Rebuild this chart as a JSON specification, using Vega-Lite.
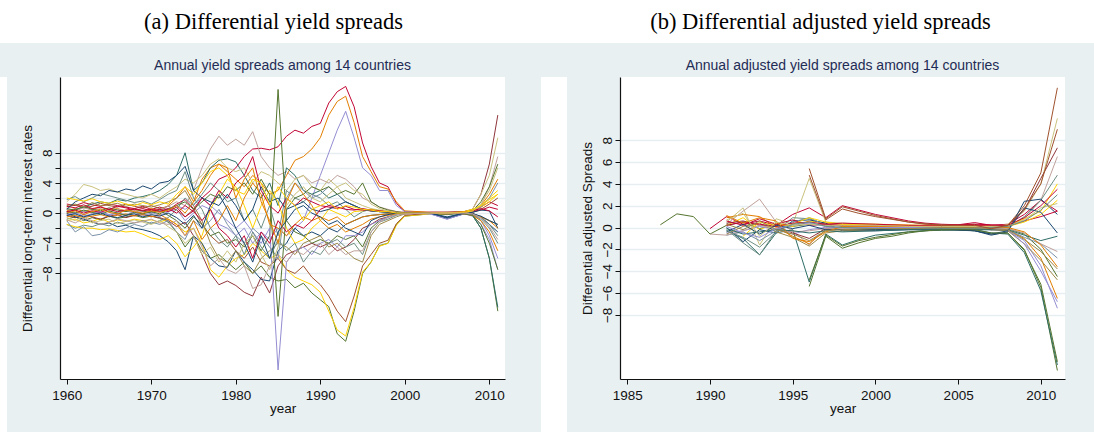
{
"$schema": "https://vega.github.io/schema/vega-lite/v6.json",
"background": "#e9f0f2",
"padding": 0,
"spacing": 16,
"resolve": {"scale": {"color": "independent"}},
"config": {
 "view": {"stroke": null},
 "font": "Liberation Sans",
 "axis": {"labelFont": "Liberation Sans", "titleFont": "Liberation Sans", "labelFontSize": 13.5, "titleFontSize": 13.5, "titleFontWeight": "normal", "labelColor": "#111111", "titleColor": "#111111", "domainColor": "#111111", "tickColor": "#111111", "domainWidth": 1.2, "tickSize": 5, "tickWidth": 1, "gridColor": "#e6eef1", "gridWidth": 1.5},
 "axisX": {"labelPadding": 4, "titlePadding": 0, "grid": false},
 "axisY": {"labelAngle": -90, "labelAlign": "center", "labelBaseline": "bottom", "labelPadding": 1, "titlePadding": 6, "grid": true},
 "title": {"font": "Liberation Sans", "fontSize": 14, "fontWeight": "normal", "color": "#1f2c55", "anchor": "middle", "baseline": "bottom", "offset": 4}
},
"datasets": {
"a": [
{"s":"a1","t":1960,"v":1.2},{"s":"a1","t":1961,"v":1},{"s":"a1","t":1962,"v":1.4},{"s":"a1","t":1963,"v":1.1},{"s":"a1","t":1964,"v":0.9},{"s":"a1","t":1965,"v":1.2},{"s":"a1","t":1966,"v":1},{"s":"a1","t":1967,"v":0.8},{"s":"a1","t":1968,"v":0.6},{"s":"a1","t":1969,"v":0.9},
{"s":"a1","t":1970,"v":0.5},{"s":"a1","t":1971,"v":0.8},{"s":"a1","t":1972,"v":0.4},{"s":"a1","t":1973,"v":1.2},{"s":"a1","t":1974,"v":1.8},{"s":"a1","t":1975,"v":0.6},{"s":"a1","t":1976,"v":2},{"s":"a1","t":1977,"v":3},{"s":"a1","t":1978,"v":4.5},{"s":"a1","t":1979,"v":5},
{"s":"a1","t":1980,"v":6},{"s":"a1","t":1981,"v":7.5},{"s":"a1","t":1982,"v":8.5},{"s":"a1","t":1983,"v":8.6},{"s":"a1","t":1984,"v":8.4},{"s":"a1","t":1985,"v":8.8},{"s":"a1","t":1986,"v":10.2},{"s":"a1","t":1987,"v":11},{"s":"a1","t":1988,"v":10.6},{"s":"a1","t":1989,"v":11.5},
{"s":"a1","t":1990,"v":11.9},{"s":"a1","t":1991,"v":14.6},{"s":"a1","t":1992,"v":16.1},{"s":"a1","t":1993,"v":16.8},{"s":"a1","t":1994,"v":14.1},{"s":"a1","t":1995,"v":9.3},{"s":"a1","t":1996,"v":6.2},{"s":"a1","t":1997,"v":4},{"s":"a1","t":1998,"v":3.5},{"s":"a1","t":1999,"v":1.3},
{"s":"a1","t":2000,"v":0.2},{"s":"a1","t":2003,"v":0.1},{"s":"a1","t":2005,"v":0.1},{"s":"a1","t":2007,"v":0.1},{"s":"a1","t":2008,"v":0.3},{"s":"a1","t":2009,"v":0.8},{"s":"a1","t":2010,"v":1.5},{"s":"a1","t":2011,"v":1},
{"s":"a2","t":1960,"v":-0.8},{"s":"a2","t":1961,"v":-0.5},{"s":"a2","t":1962,"v":-1},{"s":"a2","t":1963,"v":-0.6},{"s":"a2","t":1964,"v":-0.9},{"s":"a2","t":1965,"v":-0.4},{"s":"a2","t":1966,"v":-0.7},{"s":"a2","t":1967,"v":-0.5},{"s":"a2","t":1968,"v":-0.3},{"s":"a2","t":1969,"v":-0.6},
{"s":"a2","t":1970,"v":-0.4},{"s":"a2","t":1971,"v":-0.7},{"s":"a2","t":1972,"v":-1.2},{"s":"a2","t":1973,"v":-2.5},{"s":"a2","t":1974,"v":-4.5},{"s":"a2","t":1975,"v":-3},{"s":"a2","t":1976,"v":-5},{"s":"a2","t":1977,"v":-6},{"s":"a2","t":1978,"v":-5.5},{"s":"a2","t":1979,"v":-6.5},
{"s":"a2","t":1980,"v":-7.5},{"s":"a2","t":1981,"v":-6.5},{"s":"a2","t":1982,"v":-8},{"s":"a2","t":1983,"v":-7},{"s":"a2","t":1984,"v":-8.5},{"s":"a2","t":1985,"v":-9},{"s":"a2","t":1986,"v":-8.8},{"s":"a2","t":1987,"v":-9.9},{"s":"a2","t":1988,"v":-9.3},{"s":"a2","t":1989,"v":-10.6},
{"s":"a2","t":1990,"v":-11.5},{"s":"a2","t":1991,"v":-12.4},{"s":"a2","t":1992,"v":-16},{"s":"a2","t":1993,"v":-17},{"s":"a2","t":1994,"v":-13},{"s":"a2","t":1995,"v":-8},{"s":"a2","t":1996,"v":-6.5},{"s":"a2","t":1997,"v":-4.3},{"s":"a2","t":1998,"v":-4},{"s":"a2","t":1999,"v":-1.5},
{"s":"a2","t":2000,"v":-0.4},{"s":"a2","t":2003,"v":-0.1},{"s":"a2","t":2005,"v":-0.2},{"s":"a2","t":2007,"v":0},{"s":"a2","t":2008,"v":-0.3},{"s":"a2","t":2009,"v":-2},{"s":"a2","t":2010,"v":-6},{"s":"a2","t":2011,"v":-13},
{"s":"a3","t":1960,"v":0.3},{"s":"a3","t":1961,"v":0.6},{"s":"a3","t":1962,"v":0.2},{"s":"a3","t":1963,"v":0.5},{"s":"a3","t":1964,"v":0.8},{"s":"a3","t":1965,"v":0.4},{"s":"a3","t":1966,"v":0.6},{"s":"a3","t":1967,"v":0.3},{"s":"a3","t":1968,"v":0.5},{"s":"a3","t":1969,"v":0.2},
{"s":"a3","t":1970,"v":0.6},{"s":"a3","t":1971,"v":0.3},{"s":"a3","t":1972,"v":1},{"s":"a3","t":1973,"v":2},{"s":"a3","t":1974,"v":3.5},{"s":"a3","t":1975,"v":1.5},{"s":"a3","t":1976,"v":4.5},{"s":"a3","t":1977,"v":6},{"s":"a3","t":1978,"v":6.5},{"s":"a3","t":1979,"v":5.5},
{"s":"a3","t":1980,"v":4.5},{"s":"a3","t":1981,"v":3.5},{"s":"a3","t":1982,"v":5},{"s":"a3","t":1983,"v":4},{"s":"a3","t":1984,"v":2.5},{"s":"a3","t":1985,"v":3},{"s":"a3","t":1986,"v":5},{"s":"a3","t":1987,"v":7},{"s":"a3","t":1988,"v":7.5},{"s":"a3","t":1989,"v":8.5},
{"s":"a3","t":1990,"v":10},{"s":"a3","t":1991,"v":13},{"s":"a3","t":1992,"v":14.8},{"s":"a3","t":1993,"v":15.5},{"s":"a3","t":1994,"v":12},{"s":"a3","t":1995,"v":7.5},{"s":"a3","t":1996,"v":5.5},{"s":"a3","t":1997,"v":3.5},{"s":"a3","t":1998,"v":3.2},{"s":"a3","t":1999,"v":1.5},
{"s":"a3","t":2000,"v":0.3},{"s":"a3","t":2003,"v":0.1},{"s":"a3","t":2005,"v":0.1},{"s":"a3","t":2007,"v":0.2},{"s":"a3","t":2008,"v":0.4},{"s":"a3","t":2009,"v":1},{"s":"a3","t":2010,"v":2.5},{"s":"a3","t":2011,"v":4.5},
{"s":"a4","t":1960,"v":-1},{"s":"a4","t":1961,"v":-0.8},{"s":"a4","t":1962,"v":-1.3},{"s":"a4","t":1963,"v":-1.1},{"s":"a4","t":1964,"v":-0.7},{"s":"a4","t":1965,"v":-1.2},{"s":"a4","t":1966,"v":-0.9},{"s":"a4","t":1967,"v":-1.1},{"s":"a4","t":1968,"v":-0.8},{"s":"a4","t":1969,"v":-1},
{"s":"a4","t":1970,"v":-0.9},{"s":"a4","t":1971,"v":-1.2},{"s":"a4","t":1972,"v":-0.8},{"s":"a4","t":1973,"v":-1.5},{"s":"a4","t":1974,"v":-2.5},{"s":"a4","t":1975,"v":-2},{"s":"a4","t":1976,"v":-4},{"s":"a4","t":1977,"v":-7.5},{"s":"a4","t":1978,"v":-8.5},{"s":"a4","t":1979,"v":-7},
{"s":"a4","t":1980,"v":-6},{"s":"a4","t":1981,"v":-5.5},{"s":"a4","t":1982,"v":-4},{"s":"a4","t":1983,"v":-5},{"s":"a4","t":1984,"v":-6},{"s":"a4","t":1985,"v":-5.5},{"s":"a4","t":1986,"v":-7.5},{"s":"a4","t":1987,"v":-8.5},{"s":"a4","t":1988,"v":-9},{"s":"a4","t":1989,"v":-9.5},
{"s":"a4","t":1990,"v":-10.5},{"s":"a4","t":1991,"v":-13},{"s":"a4","t":1992,"v":-15.5},{"s":"a4","t":1993,"v":-16.3},{"s":"a4","t":1994,"v":-12.5},{"s":"a4","t":1995,"v":-7.8},{"s":"a4","t":1996,"v":-6.5},{"s":"a4","t":1997,"v":-4.4},{"s":"a4","t":1998,"v":-4},{"s":"a4","t":1999,"v":-1.6},
{"s":"a4","t":2000,"v":-0.4},{"s":"a4","t":2003,"v":-0.1},{"s":"a4","t":2005,"v":-0.1},{"s":"a4","t":2007,"v":0.1},{"s":"a4","t":2008,"v":0.2},{"s":"a4","t":2009,"v":0.8},{"s":"a4","t":2010,"v":1.5},{"s":"a4","t":2011,"v":2.5},
{"s":"a5","t":1960,"v":0.2},{"s":"a5","t":1961,"v":-0.1},{"s":"a5","t":1962,"v":0.3},{"s":"a5","t":1963,"v":0},{"s":"a5","t":1964,"v":0.2},{"s":"a5","t":1965,"v":-0.2},{"s":"a5","t":1966,"v":0.1},{"s":"a5","t":1967,"v":0.3},{"s":"a5","t":1968,"v":0},{"s":"a5","t":1969,"v":0.2},
{"s":"a5","t":1970,"v":0.1},{"s":"a5","t":1971,"v":-0.3},{"s":"a5","t":1972,"v":0.2},{"s":"a5","t":1973,"v":0.5},{"s":"a5","t":1974,"v":-1},{"s":"a5","t":1975,"v":0},{"s":"a5","t":1976,"v":1},{"s":"a5","t":1977,"v":0.5},{"s":"a5","t":1978,"v":-1.5},{"s":"a5","t":1979,"v":-2},
{"s":"a5","t":1980,"v":-3},{"s":"a5","t":1981,"v":-2},{"s":"a5","t":1982,"v":-4},{"s":"a5","t":1983,"v":-2.5},{"s":"a5","t":1984,"v":-3.5},{"s":"a5","t":1985,"v":-2},{"s":"a5","t":1986,"v":-3},{"s":"a5","t":1987,"v":-2},{"s":"a5","t":1988,"v":-1},{"s":"a5","t":1989,"v":2},
{"s":"a5","t":1990,"v":5},{"s":"a5","t":1991,"v":8},{"s":"a5","t":1992,"v":11},{"s":"a5","t":1993,"v":13.5},{"s":"a5","t":1994,"v":10},{"s":"a5","t":1995,"v":6},{"s":"a5","t":1996,"v":5},{"s":"a5","t":1997,"v":3},{"s":"a5","t":1998,"v":3},{"s":"a5","t":1999,"v":1},
{"s":"a5","t":2000,"v":0.2},{"s":"a5","t":2003,"v":-0.1},{"s":"a5","t":2005,"v":-0.8},{"s":"a5","t":2007,"v":-0.1},{"s":"a5","t":2008,"v":-0.4},{"s":"a5","t":2009,"v":-1.5},{"s":"a5","t":2010,"v":-3.5},{"s":"a5","t":2011,"v":-7.5},
{"s":"a6","t":1960,"v":0.8},{"s":"a6","t":1961,"v":1.1},{"s":"a6","t":1962,"v":0.7},{"s":"a6","t":1963,"v":0.9},{"s":"a6","t":1964,"v":1.3},{"s":"a6","t":1965,"v":1},{"s":"a6","t":1966,"v":0.8},{"s":"a6","t":1967,"v":1.2},{"s":"a6","t":1968,"v":0.9},{"s":"a6","t":1969,"v":0.7},
{"s":"a6","t":1970,"v":1},{"s":"a6","t":1971,"v":0.6},{"s":"a6","t":1972,"v":0.9},{"s":"a6","t":1973,"v":0.4},{"s":"a6","t":1974,"v":-0.5},{"s":"a6","t":1975,"v":0.5},{"s":"a6","t":1976,"v":-1.5},{"s":"a6","t":1977,"v":-3},{"s":"a6","t":1978,"v":-4},{"s":"a6","t":1979,"v":-3.5},
{"s":"a6","t":1980,"v":-5},{"s":"a6","t":1981,"v":-6},{"s":"a6","t":1982,"v":-4.5},{"s":"a6","t":1983,"v":-6.5},{"s":"a6","t":1984,"v":-7},{"s":"a6","t":1985,"v":-6},{"s":"a6","t":1986,"v":-7.5},{"s":"a6","t":1987,"v":-8},{"s":"a6","t":1988,"v":-7},{"s":"a6","t":1989,"v":-8.5},
{"s":"a6","t":1990,"v":-9.5},{"s":"a6","t":1991,"v":-11},{"s":"a6","t":1992,"v":-13},{"s":"a6","t":1993,"v":-14.4},{"s":"a6","t":1994,"v":-11},{"s":"a6","t":1995,"v":-7},{"s":"a6","t":1996,"v":-5.5},{"s":"a6","t":1997,"v":-4},{"s":"a6","t":1998,"v":-3.6},{"s":"a6","t":1999,"v":-1.4},
{"s":"a6","t":2000,"v":-0.3},{"s":"a6","t":2003,"v":0},{"s":"a6","t":2005,"v":-0.1},{"s":"a6","t":2007,"v":0.1},{"s":"a6","t":2008,"v":0.1},{"s":"a6","t":2009,"v":0.5},{"s":"a6","t":2010,"v":1.2},{"s":"a6","t":2011,"v":2},
{"s":"a7","t":1960,"v":0.5},{"s":"a7","t":1961,"v":0.3},{"s":"a7","t":1962,"v":0.7},{"s":"a7","t":1963,"v":0.4},{"s":"a7","t":1964,"v":0.6},{"s":"a7","t":1965,"v":0.2},{"s":"a7","t":1966,"v":0.5},{"s":"a7","t":1967,"v":0.3},{"s":"a7","t":1968,"v":0.1},{"s":"a7","t":1969,"v":0.4},
{"s":"a7","t":1970,"v":0.2},{"s":"a7","t":1971,"v":0.5},{"s":"a7","t":1972,"v":0.9},{"s":"a7","t":1973,"v":1.5},{"s":"a7","t":1974,"v":1},{"s":"a7","t":1975,"v":3},{"s":"a7","t":1976,"v":6},{"s":"a7","t":1977,"v":8.5},{"s":"a7","t":1978,"v":10.2},{"s":"a7","t":1979,"v":9},
{"s":"a7","t":1980,"v":9.8},{"s":"a7","t":1981,"v":9},{"s":"a7","t":1982,"v":10.8},{"s":"a7","t":1983,"v":7.5},{"s":"a7","t":1984,"v":6},{"s":"a7","t":1985,"v":5},{"s":"a7","t":1986,"v":5.5},{"s":"a7","t":1987,"v":4.5},{"s":"a7","t":1988,"v":5},{"s":"a7","t":1989,"v":4},
{"s":"a7","t":1990,"v":4.5},{"s":"a7","t":1991,"v":4},{"s":"a7","t":1992,"v":5},{"s":"a7","t":1993,"v":4.5},{"s":"a7","t":1994,"v":3.5},{"s":"a7","t":1995,"v":2},{"s":"a7","t":1996,"v":1.5},{"s":"a7","t":1997,"v":0.8},{"s":"a7","t":1998,"v":0.5},{"s":"a7","t":1999,"v":0.2},
{"s":"a7","t":2000,"v":0.1},{"s":"a7","t":2003,"v":0},{"s":"a7","t":2005,"v":0},{"s":"a7","t":2007,"v":0},{"s":"a7","t":2008,"v":0.2},{"s":"a7","t":2009,"v":1},{"s":"a7","t":2010,"v":3.5},{"s":"a7","t":2011,"v":7.5},
{"s":"a8","t":1960,"v":-0.3},{"s":"a8","t":1961,"v":-0.6},{"s":"a8","t":1962,"v":-0.2},{"s":"a8","t":1963,"v":-0.5},{"s":"a8","t":1964,"v":-0.8},{"s":"a8","t":1965,"v":-0.4},{"s":"a8","t":1966,"v":-0.2},{"s":"a8","t":1967,"v":-0.6},{"s":"a8","t":1968,"v":-0.3},{"s":"a8","t":1969,"v":-0.1},
{"s":"a8","t":1970,"v":-0.4},{"s":"a8","t":1971,"v":-0.6},{"s":"a8","t":1972,"v":-1},{"s":"a8","t":1973,"v":-1.8},{"s":"a8","t":1974,"v":-1.2},{"s":"a8","t":1975,"v":-3},{"s":"a8","t":1976,"v":-5.5},{"s":"a8","t":1977,"v":-8},{"s":"a8","t":1978,"v":-9.5},{"s":"a8","t":1979,"v":-9},
{"s":"a8","t":1980,"v":-9.6},{"s":"a8","t":1981,"v":-10.5},{"s":"a8","t":1982,"v":-11},{"s":"a8","t":1983,"v":-8.5},{"s":"a8","t":1984,"v":-10.6},{"s":"a8","t":1985,"v":-7},{"s":"a8","t":1986,"v":-5.5},{"s":"a8","t":1987,"v":-5},{"s":"a8","t":1988,"v":-4.5},{"s":"a8","t":1989,"v":-4},
{"s":"a8","t":1990,"v":-4.5},{"s":"a8","t":1991,"v":-4},{"s":"a8","t":1992,"v":-5},{"s":"a8","t":1993,"v":-4.5},{"s":"a8","t":1994,"v":-3.5},{"s":"a8","t":1995,"v":-2},{"s":"a8","t":1996,"v":-1.5},{"s":"a8","t":1997,"v":-0.8},{"s":"a8","t":1998,"v":-0.5},{"s":"a8","t":1999,"v":-0.2},
{"s":"a8","t":2000,"v":-0.1},{"s":"a8","t":2003,"v":0.1},{"s":"a8","t":2005,"v":0.1},{"s":"a8","t":2007,"v":0.2},{"s":"a8","t":2008,"v":0.5},{"s":"a8","t":2009,"v":2.5},{"s":"a8","t":2010,"v":6.5},{"s":"a8","t":2011,"v":13},
{"s":"a9","t":1960,"v":0},{"s":"a9","t":1961,"v":0.5},{"s":"a9","t":1962,"v":0.8},{"s":"a9","t":1963,"v":1.2},{"s":"a9","t":1964,"v":1.5},{"s":"a9","t":1965,"v":1.3},{"s":"a9","t":1966,"v":1.8},{"s":"a9","t":1967,"v":1.6},{"s":"a9","t":1968,"v":2},{"s":"a9","t":1969,"v":2.2},
{"s":"a9","t":1970,"v":2.5},{"s":"a9","t":1971,"v":3},{"s":"a9","t":1972,"v":3.8},{"s":"a9","t":1973,"v":5},{"s":"a9","t":1974,"v":8},{"s":"a9","t":1975,"v":3},{"s":"a9","t":1976,"v":4},{"s":"a9","t":1977,"v":6},{"s":"a9","t":1978,"v":7},{"s":"a9","t":1979,"v":7.2},
{"s":"a9","t":1980,"v":6.8},{"s":"a9","t":1981,"v":5},{"s":"a9","t":1982,"v":3},{"s":"a9","t":1983,"v":2},{"s":"a9","t":1984,"v":4},{"s":"a9","t":1985,"v":1},{"s":"a9","t":1986,"v":6},{"s":"a9","t":1987,"v":5},{"s":"a9","t":1988,"v":3},{"s":"a9","t":1989,"v":2.5},
{"s":"a9","t":1990,"v":3},{"s":"a9","t":1991,"v":2},{"s":"a9","t":1992,"v":2.5},{"s":"a9","t":1993,"v":1.5},{"s":"a9","t":1994,"v":1},{"s":"a9","t":1995,"v":0.5},{"s":"a9","t":1996,"v":0.3},{"s":"a9","t":1997,"v":0.2},{"s":"a9","t":1998,"v":0.1},{"s":"a9","t":1999,"v":0},
{"s":"a9","t":2000,"v":0},{"s":"a9","t":2003,"v":0},{"s":"a9","t":2005,"v":-0.1},{"s":"a9","t":2007,"v":0},{"s":"a9","t":2008,"v":-0.3},{"s":"a9","t":2009,"v":-2},{"s":"a9","t":2010,"v":-6},{"s":"a9","t":2011,"v":-12.5},
{"s":"a10","t":1960,"v":0},{"s":"a10","t":1961,"v":-0.5},{"s":"a10","t":1962,"v":-0.8},{"s":"a10","t":1963,"v":-1.2},{"s":"a10","t":1964,"v":-1.5},{"s":"a10","t":1965,"v":-1.3},{"s":"a10","t":1966,"v":-1.8},{"s":"a10","t":1967,"v":-1.6},{"s":"a10","t":1968,"v":-2},{"s":"a10","t":1969,"v":-2.2},
{"s":"a10","t":1970,"v":-2.5},{"s":"a10","t":1971,"v":-3},{"s":"a10","t":1972,"v":-3.8},{"s":"a10","t":1973,"v":-5},{"s":"a10","t":1974,"v":-7.5},{"s":"a10","t":1975,"v":-3},{"s":"a10","t":1976,"v":-4},{"s":"a10","t":1977,"v":-6},{"s":"a10","t":1978,"v":-7},{"s":"a10","t":1979,"v":-7.2},
{"s":"a10","t":1980,"v":-5},{"s":"a10","t":1981,"v":-6.5},{"s":"a10","t":1982,"v":-7.5},{"s":"a10","t":1983,"v":-8.8},{"s":"a10","t":1984,"v":-9},{"s":"a10","t":1985,"v":-5},{"s":"a10","t":1986,"v":-4},{"s":"a10","t":1987,"v":-2},{"s":"a10","t":1988,"v":-3},{"s":"a10","t":1989,"v":-2.5},
{"s":"a10","t":1990,"v":-3},{"s":"a10","t":1991,"v":-2},{"s":"a10","t":1992,"v":-2.5},{"s":"a10","t":1993,"v":-1.5},{"s":"a10","t":1994,"v":-1},{"s":"a10","t":1995,"v":-0.5},{"s":"a10","t":1996,"v":-0.3},{"s":"a10","t":1997,"v":-0.2},{"s":"a10","t":1998,"v":-0.1},{"s":"a10","t":1999,"v":0},
{"s":"a10","t":2000,"v":0},{"s":"a10","t":2003,"v":0},{"s":"a10","t":2005,"v":-0.7},{"s":"a10","t":2007,"v":-0.1},{"s":"a10","t":2008,"v":0},{"s":"a10","t":2009,"v":-0.5},{"s":"a10","t":2010,"v":-1.5},{"s":"a10","t":2011,"v":-2.5},
{"s":"a11","t":1960,"v":0.6},{"s":"a11","t":1961,"v":0.4},{"s":"a11","t":1962,"v":0.9},{"s":"a11","t":1963,"v":0.5},{"s":"a11","t":1964,"v":0.3},{"s":"a11","t":1965,"v":0.7},{"s":"a11","t":1966,"v":0.4},{"s":"a11","t":1967,"v":0.2},{"s":"a11","t":1968,"v":0.5},{"s":"a11","t":1969,"v":0.3},
{"s":"a11","t":1970,"v":0},{"s":"a11","t":1971,"v":0.4},{"s":"a11","t":1972,"v":-0.3},{"s":"a11","t":1973,"v":-1},{"s":"a11","t":1974,"v":-2},{"s":"a11","t":1975,"v":-0.5},{"s":"a11","t":1976,"v":-1.5},{"s":"a11","t":1977,"v":-3},{"s":"a11","t":1978,"v":-2.5},{"s":"a11","t":1979,"v":-4},
{"s":"a11","t":1980,"v":-3.5},{"s":"a11","t":1981,"v":-4.5},{"s":"a11","t":1982,"v":-3},{"s":"a11","t":1983,"v":-5},{"s":"a11","t":1984,"v":-3},{"s":"a11","t":1985,"v":16.4},{"s":"a11","t":1986,"v":-1},{"s":"a11","t":1987,"v":-2.5},{"s":"a11","t":1988,"v":-3},{"s":"a11","t":1989,"v":-4},
{"s":"a11","t":1990,"v":-3.5},{"s":"a11","t":1991,"v":-4},{"s":"a11","t":1992,"v":-3},{"s":"a11","t":1993,"v":-3.5},{"s":"a11","t":1994,"v":-3},{"s":"a11","t":1995,"v":-4.5},{"s":"a11","t":1996,"v":-2},{"s":"a11","t":1997,"v":-1},{"s":"a11","t":1998,"v":-0.5},{"s":"a11","t":1999,"v":-0.2},
{"s":"a11","t":2000,"v":0},{"s":"a11","t":2003,"v":0},{"s":"a11","t":2005,"v":0},{"s":"a11","t":2007,"v":0.1},{"s":"a11","t":2008,"v":0.3},{"s":"a11","t":2009,"v":1.5},{"s":"a11","t":2010,"v":3.5},{"s":"a11","t":2011,"v":6.5},
{"s":"a12","t":1960,"v":-0.2},{"s":"a12","t":1961,"v":0.1},{"s":"a12","t":1962,"v":-0.4},{"s":"a12","t":1963,"v":-0.1},{"s":"a12","t":1964,"v":0.2},{"s":"a12","t":1965,"v":-0.3},{"s":"a12","t":1966,"v":0},{"s":"a12","t":1967,"v":-0.2},{"s":"a12","t":1968,"v":0.1},{"s":"a12","t":1969,"v":-0.3},
{"s":"a12","t":1970,"v":0},{"s":"a12","t":1971,"v":0.3},{"s":"a12","t":1972,"v":0.6},{"s":"a12","t":1973,"v":1},{"s":"a12","t":1974,"v":0.5},{"s":"a12","t":1975,"v":1.2},{"s":"a12","t":1976,"v":2},{"s":"a12","t":1977,"v":1},{"s":"a12","t":1978,"v":0},{"s":"a12","t":1979,"v":-1},
{"s":"a12","t":1980,"v":-2},{"s":"a12","t":1981,"v":-1},{"s":"a12","t":1982,"v":-2.5},{"s":"a12","t":1983,"v":-4},{"s":"a12","t":1984,"v":-2},{"s":"a12","t":1985,"v":-20.8},{"s":"a12","t":1986,"v":-6.5},{"s":"a12","t":1987,"v":-5},{"s":"a12","t":1988,"v":-4.5},{"s":"a12","t":1989,"v":-5.5},
{"s":"a12","t":1990,"v":-4},{"s":"a12","t":1991,"v":-3.5},{"s":"a12","t":1992,"v":-4.5},{"s":"a12","t":1993,"v":-3},{"s":"a12","t":1994,"v":-3},{"s":"a12","t":1995,"v":-2.5},{"s":"a12","t":1996,"v":-1.5},{"s":"a12","t":1997,"v":-1},{"s":"a12","t":1998,"v":-0.5},{"s":"a12","t":1999,"v":-0.2},
{"s":"a12","t":2000,"v":0},{"s":"a12","t":2003,"v":-0.1},{"s":"a12","t":2005,"v":-0.8},{"s":"a12","t":2007,"v":-0.1},{"s":"a12","t":2008,"v":-0.2},{"s":"a12","t":2009,"v":-1},{"s":"a12","t":2010,"v":-3},{"s":"a12","t":2011,"v":-6},
{"s":"a13","t":1960,"v":1.5},{"s":"a13","t":1961,"v":2.5},{"s":"a13","t":1962,"v":3.8},{"s":"a13","t":1963,"v":3.5},{"s":"a13","t":1964,"v":3},{"s":"a13","t":1965,"v":3.2},{"s":"a13","t":1966,"v":2.8},{"s":"a13","t":1967,"v":2.5},{"s":"a13","t":1968,"v":2.2},{"s":"a13","t":1969,"v":2},
{"s":"a13","t":1970,"v":2.5},{"s":"a13","t":1971,"v":2},{"s":"a13","t":1972,"v":2.8},{"s":"a13","t":1973,"v":3.5},{"s":"a13","t":1974,"v":4.5},{"s":"a13","t":1975,"v":4},{"s":"a13","t":1976,"v":5},{"s":"a13","t":1977,"v":6.5},{"s":"a13","t":1978,"v":7.2},{"s":"a13","t":1979,"v":6},
{"s":"a13","t":1980,"v":5.5},{"s":"a13","t":1981,"v":6},{"s":"a13","t":1982,"v":4},{"s":"a13","t":1983,"v":5.5},{"s":"a13","t":1984,"v":5},{"s":"a13","t":1985,"v":4},{"s":"a13","t":1986,"v":3},{"s":"a13","t":1987,"v":4.5},{"s":"a13","t":1988,"v":5},{"s":"a13","t":1989,"v":3.5},
{"s":"a13","t":1990,"v":3},{"s":"a13","t":1991,"v":4.5},{"s":"a13","t":1992,"v":3.5},{"s":"a13","t":1993,"v":2},{"s":"a13","t":1994,"v":1.5},{"s":"a13","t":1995,"v":1},{"s":"a13","t":1996,"v":0.6},{"s":"a13","t":1997,"v":0.4},{"s":"a13","t":1998,"v":0.2},{"s":"a13","t":1999,"v":0.1},
{"s":"a13","t":2000,"v":0.1},{"s":"a13","t":2003,"v":0},{"s":"a13","t":2005,"v":0},{"s":"a13","t":2007,"v":0.1},{"s":"a13","t":2008,"v":0.5},{"s":"a13","t":2009,"v":2.5},{"s":"a13","t":2010,"v":5},{"s":"a13","t":2011,"v":10},
{"s":"a14","t":1960,"v":-1.5},{"s":"a14","t":1961,"v":-2},{"s":"a14","t":1962,"v":-1.6},{"s":"a14","t":1963,"v":-1.8},{"s":"a14","t":1964,"v":-1.4},{"s":"a14","t":1965,"v":-1.7},{"s":"a14","t":1966,"v":-1.2},{"s":"a14","t":1967,"v":-1.5},{"s":"a14","t":1968,"v":-1.3},{"s":"a14","t":1969,"v":-1},
{"s":"a14","t":1970,"v":-1.4},{"s":"a14","t":1971,"v":-1},{"s":"a14","t":1972,"v":-0.6},{"s":"a14","t":1973,"v":0.5},{"s":"a14","t":1974,"v":2},{"s":"a14","t":1975,"v":1},{"s":"a14","t":1976,"v":2.5},{"s":"a14","t":1977,"v":4},{"s":"a14","t":1978,"v":3},{"s":"a14","t":1979,"v":1.5},
{"s":"a14","t":1980,"v":2},{"s":"a14","t":1981,"v":-1},{"s":"a14","t":1982,"v":0.5},{"s":"a14","t":1983,"v":-2},{"s":"a14","t":1984,"v":1},{"s":"a14","t":1985,"v":-3},{"s":"a14","t":1986,"v":3},{"s":"a14","t":1987,"v":2},{"s":"a14","t":1988,"v":1.5},{"s":"a14","t":1989,"v":2.5},
{"s":"a14","t":1990,"v":2},{"s":"a14","t":1991,"v":1},{"s":"a14","t":1992,"v":1.5},{"s":"a14","t":1993,"v":0.5},{"s":"a14","t":1994,"v":-0.5},{"s":"a14","t":1995,"v":0.2},{"s":"a14","t":1996,"v":0.5},{"s":"a14","t":1997,"v":0.3},{"s":"a14","t":1998,"v":0.1},{"s":"a14","t":1999,"v":0},
{"s":"a14","t":2000,"v":0},{"s":"a14","t":2003,"v":0},{"s":"a14","t":2005,"v":0.1},{"s":"a14","t":2007,"v":0},{"s":"a14","t":2008,"v":-0.2},{"s":"a14","t":2009,"v":-0.8},{"s":"a14","t":2010,"v":-2},{"s":"a14","t":2011,"v":-4},
{"s":"a15","t":1960,"v":-1.5},{"s":"a15","t":1961,"v":-1.8},{"s":"a15","t":1962,"v":-2},{"s":"a15","t":1963,"v":-2},{"s":"a15","t":1964,"v":-2.2},{"s":"a15","t":1965,"v":-2.1},{"s":"a15","t":1966,"v":-2.3},{"s":"a15","t":1967,"v":-2.5},{"s":"a15","t":1968,"v":-2.4},{"s":"a15","t":1969,"v":-2.8},
{"s":"a15","t":1970,"v":-3.3},{"s":"a15","t":1971,"v":-3.5},{"s":"a15","t":1972,"v":-3},{"s":"a15","t":1973,"v":-4},{"s":"a15","t":1974,"v":-5.8},{"s":"a15","t":1975,"v":-4.5},{"s":"a15","t":1976,"v":-3},{"s":"a15","t":1977,"v":0.5},{"s":"a15","t":1978,"v":2.5},{"s":"a15","t":1979,"v":4.5},
{"s":"a15","t":1980,"v":3.5},{"s":"a15","t":1981,"v":1},{"s":"a15","t":1982,"v":-2},{"s":"a15","t":1983,"v":1},{"s":"a15","t":1984,"v":3},{"s":"a15","t":1985,"v":1.5},{"s":"a15","t":1986,"v":-2},{"s":"a15","t":1987,"v":-4},{"s":"a15","t":1988,"v":-3.5},{"s":"a15","t":1989,"v":-2},
{"s":"a15","t":1990,"v":-1},{"s":"a15","t":1991,"v":0.5},{"s":"a15","t":1992,"v":0},{"s":"a15","t":1993,"v":-0.5},{"s":"a15","t":1994,"v":0.2},{"s":"a15","t":1995,"v":0.3},{"s":"a15","t":1996,"v":0.5},{"s":"a15","t":1997,"v":0.3},{"s":"a15","t":1998,"v":0.2},{"s":"a15","t":1999,"v":0.1},
{"s":"a15","t":2000,"v":0},{"s":"a15","t":2003,"v":0},{"s":"a15","t":2005,"v":0},{"s":"a15","t":2007,"v":0.2},{"s":"a15","t":2008,"v":0.5},{"s":"a15","t":2009,"v":1},{"s":"a15","t":2010,"v":2},{"s":"a15","t":2011,"v":3},
{"s":"a16","t":1960,"v":1},{"s":"a16","t":1961,"v":1.2},{"s":"a16","t":1962,"v":0.8},{"s":"a16","t":1963,"v":1.4},{"s":"a16","t":1964,"v":1},{"s":"a16","t":1965,"v":1.1},{"s":"a16","t":1966,"v":1.3},{"s":"a16","t":1967,"v":0.9},{"s":"a16","t":1968,"v":1.2},{"s":"a16","t":1969,"v":1},
{"s":"a16","t":1970,"v":0.8},{"s":"a16","t":1971,"v":1.1},{"s":"a16","t":1972,"v":1.5},{"s":"a16","t":1973,"v":2},{"s":"a16","t":1974,"v":3},{"s":"a16","t":1975,"v":1},{"s":"a16","t":1976,"v":-1},{"s":"a16","t":1977,"v":-4},{"s":"a16","t":1978,"v":-6},{"s":"a16","t":1979,"v":-6.5},
{"s":"a16","t":1980,"v":-5},{"s":"a16","t":1981,"v":-7},{"s":"a16","t":1982,"v":-8},{"s":"a16","t":1983,"v":-6},{"s":"a16","t":1984,"v":-5},{"s":"a16","t":1985,"v":-4},{"s":"a16","t":1986,"v":-4.5},{"s":"a16","t":1987,"v":-5.5},{"s":"a16","t":1988,"v":-4},{"s":"a16","t":1989,"v":-3.5},
{"s":"a16","t":1990,"v":-3},{"s":"a16","t":1991,"v":-4.5},{"s":"a16","t":1992,"v":-4},{"s":"a16","t":1993,"v":-5},{"s":"a16","t":1994,"v":-6},{"s":"a16","t":1995,"v":-6.5},{"s":"a16","t":1996,"v":-3},{"s":"a16","t":1997,"v":-1.5},{"s":"a16","t":1998,"v":-1},{"s":"a16","t":1999,"v":-0.5},
{"s":"a16","t":2000,"v":-0.1},{"s":"a16","t":2003,"v":0},{"s":"a16","t":2005,"v":-0.1},{"s":"a16","t":2007,"v":0},{"s":"a16","t":2008,"v":-0.2},{"s":"a16","t":2009,"v":-0.5},{"s":"a16","t":2010,"v":-1},{"s":"a16","t":2011,"v":-1.5},
{"s":"a17","t":1960,"v":0.9},{"s":"a17","t":1961,"v":0.7},{"s":"a17","t":1962,"v":1.1},{"s":"a17","t":1963,"v":0.6},{"s":"a17","t":1964,"v":0.8},{"s":"a17","t":1965,"v":0.5},{"s":"a17","t":1966,"v":0.9},{"s":"a17","t":1967,"v":0.7},{"s":"a17","t":1968,"v":0.4},{"s":"a17","t":1969,"v":0.6},
{"s":"a17","t":1970,"v":0.3},{"s":"a17","t":1971,"v":0.5},{"s":"a17","t":1972,"v":0.2},{"s":"a17","t":1973,"v":0.8},{"s":"a17","t":1974,"v":-0.5},{"s":"a17","t":1975,"v":0.3},{"s":"a17","t":1976,"v":2},{"s":"a17","t":1977,"v":1},{"s":"a17","t":1978,"v":3},{"s":"a17","t":1979,"v":2},
{"s":"a17","t":1980,"v":4},{"s":"a17","t":1981,"v":5},{"s":"a17","t":1982,"v":7.5},{"s":"a17","t":1983,"v":3},{"s":"a17","t":1984,"v":1},{"s":"a17","t":1985,"v":0},{"s":"a17","t":1986,"v":2},{"s":"a17","t":1987,"v":1},{"s":"a17","t":1988,"v":2},{"s":"a17","t":1989,"v":1.5},
{"s":"a17","t":1990,"v":1},{"s":"a17","t":1991,"v":0.8},{"s":"a17","t":1992,"v":0.6},{"s":"a17","t":1993,"v":0.9},{"s":"a17","t":1994,"v":0.5},{"s":"a17","t":1995,"v":0.4},{"s":"a17","t":1996,"v":0.3},{"s":"a17","t":1997,"v":0.2},{"s":"a17","t":1998,"v":0.2},{"s":"a17","t":1999,"v":0.1},
{"s":"a17","t":2000,"v":0.1},{"s":"a17","t":2003,"v":0},{"s":"a17","t":2005,"v":0},{"s":"a17","t":2007,"v":0},{"s":"a17","t":2008,"v":0.2},{"s":"a17","t":2009,"v":0.4},{"s":"a17","t":2010,"v":0.8},{"s":"a17","t":2011,"v":0.5},
{"s":"a18","t":1960,"v":-1},{"s":"a18","t":1961,"v":-2.5},{"s":"a18","t":1962,"v":-1.8},{"s":"a18","t":1963,"v":-3},{"s":"a18","t":1964,"v":-2.8},{"s":"a18","t":1965,"v":-2.2},{"s":"a18","t":1966,"v":-2.5},{"s":"a18","t":1967,"v":-2},{"s":"a18","t":1968,"v":-1.5},{"s":"a18","t":1969,"v":-1.8},
{"s":"a18","t":1970,"v":-1.2},{"s":"a18","t":1971,"v":-1.5},{"s":"a18","t":1972,"v":-1},{"s":"a18","t":1973,"v":-2.5},{"s":"a18","t":1974,"v":-3.5},{"s":"a18","t":1975,"v":-1},{"s":"a18","t":1976,"v":-2},{"s":"a18","t":1977,"v":-1},{"s":"a18","t":1978,"v":0.5},{"s":"a18","t":1979,"v":-1.5},
{"s":"a18","t":1980,"v":-3},{"s":"a18","t":1981,"v":-4},{"s":"a18","t":1982,"v":-2},{"s":"a18","t":1983,"v":-3},{"s":"a18","t":1984,"v":-4.5},{"s":"a18","t":1985,"v":-6},{"s":"a18","t":1986,"v":2},{"s":"a18","t":1987,"v":4},{"s":"a18","t":1988,"v":3},{"s":"a18","t":1989,"v":2},
{"s":"a18","t":1990,"v":2.5},{"s":"a18","t":1991,"v":3.5},{"s":"a18","t":1992,"v":2.5},{"s":"a18","t":1993,"v":1.5},{"s":"a18","t":1994,"v":1},{"s":"a18","t":1995,"v":0.5},{"s":"a18","t":1996,"v":0.3},{"s":"a18","t":1997,"v":0.2},{"s":"a18","t":1998,"v":0.1},{"s":"a18","t":1999,"v":0},
{"s":"a18","t":2000,"v":0},{"s":"a18","t":2003,"v":0},{"s":"a18","t":2005,"v":0},{"s":"a18","t":2007,"v":0},{"s":"a18","t":2008,"v":0.2},{"s":"a18","t":2009,"v":0.8},{"s":"a18","t":2010,"v":2},{"s":"a18","t":2011,"v":4},
{"s":"a19","t":1960,"v":-0.5},{"s":"a19","t":1961,"v":-0.3},{"s":"a19","t":1962,"v":-0.6},{"s":"a19","t":1963,"v":-0.4},{"s":"a19","t":1964,"v":-0.2},{"s":"a19","t":1965,"v":-0.5},{"s":"a19","t":1966,"v":-0.3},{"s":"a19","t":1967,"v":-0.1},{"s":"a19","t":1968,"v":-0.4},{"s":"a19","t":1969,"v":-0.2},
{"s":"a19","t":1970,"v":-0.5},{"s":"a19","t":1971,"v":-0.2},{"s":"a19","t":1972,"v":-0.8},{"s":"a19","t":1973,"v":-1.5},{"s":"a19","t":1974,"v":-3},{"s":"a19","t":1975,"v":-1},{"s":"a19","t":1976,"v":-3.5},{"s":"a19","t":1977,"v":-2},{"s":"a19","t":1978,"v":-1},{"s":"a19","t":1979,"v":1},
{"s":"a19","t":1980,"v":-1},{"s":"a19","t":1981,"v":2},{"s":"a19","t":1982,"v":4},{"s":"a19","t":1983,"v":2.5},{"s":"a19","t":1984,"v":-1.5},{"s":"a19","t":1985,"v":-2},{"s":"a19","t":1986,"v":-3},{"s":"a19","t":1987,"v":-1.5},{"s":"a19","t":1988,"v":-0.5},{"s":"a19","t":1989,"v":-1},
{"s":"a19","t":1990,"v":-0.5},{"s":"a19","t":1991,"v":-1},{"s":"a19","t":1992,"v":-0.5},{"s":"a19","t":1993,"v":-1.5},{"s":"a19","t":1994,"v":-1},{"s":"a19","t":1995,"v":-0.5},{"s":"a19","t":1996,"v":-0.3},{"s":"a19","t":1997,"v":-0.2},{"s":"a19","t":1998,"v":-0.1},{"s":"a19","t":1999,"v":0},
{"s":"a19","t":2000,"v":0},{"s":"a19","t":2003,"v":0},{"s":"a19","t":2005,"v":0},{"s":"a19","t":2007,"v":-0.1},{"s":"a19","t":2008,"v":-0.3},{"s":"a19","t":2009,"v":-1},{"s":"a19","t":2010,"v":-2.5},{"s":"a19","t":2011,"v":-5},
{"s":"a20","t":1960,"v":0.5},{"s":"a20","t":1961,"v":1.5},{"s":"a20","t":1962,"v":2},{"s":"a20","t":1963,"v":2.5},{"s":"a20","t":1964,"v":2.3},{"s":"a20","t":1965,"v":3},{"s":"a20","t":1966,"v":2.8},{"s":"a20","t":1967,"v":3.2},{"s":"a20","t":1968,"v":3},{"s":"a20","t":1969,"v":3.6},
{"s":"a20","t":1970,"v":3.2},{"s":"a20","t":1971,"v":4},{"s":"a20","t":1972,"v":4.2},{"s":"a20","t":1973,"v":5},{"s":"a20","t":1974,"v":6.2},{"s":"a20","t":1975,"v":3},{"s":"a20","t":1976,"v":2},{"s":"a20","t":1977,"v":1.5},{"s":"a20","t":1978,"v":1},{"s":"a20","t":1979,"v":2.5},
{"s":"a20","t":1980,"v":1},{"s":"a20","t":1981,"v":-1},{"s":"a20","t":1982,"v":0.5},{"s":"a20","t":1983,"v":3.5},{"s":"a20","t":1984,"v":1.5},{"s":"a20","t":1985,"v":2},{"s":"a20","t":1986,"v":0.5},{"s":"a20","t":1987,"v":1},{"s":"a20","t":1988,"v":1.5},{"s":"a20","t":1989,"v":0.5},
{"s":"a20","t":1990,"v":0.2},{"s":"a20","t":1991,"v":0.5},{"s":"a20","t":1992,"v":1},{"s":"a20","t":1993,"v":1.5},{"s":"a20","t":1994,"v":1},{"s":"a20","t":1995,"v":0.5},{"s":"a20","t":1996,"v":0.3},{"s":"a20","t":1997,"v":0.2},{"s":"a20","t":1998,"v":0.1},{"s":"a20","t":1999,"v":0},
{"s":"a20","t":2000,"v":0},{"s":"a20","t":2003,"v":0},{"s":"a20","t":2005,"v":-0.6},{"s":"a20","t":2007,"v":0},{"s":"a20","t":2008,"v":0.1},{"s":"a20","t":2009,"v":0.4},{"s":"a20","t":2010,"v":0.3},{"s":"a20","t":2011,"v":-2},
{"s":"a21","t":1960,"v":0.2},{"s":"a21","t":1961,"v":0},{"s":"a21","t":1962,"v":0.4},{"s":"a21","t":1963,"v":0.1},{"s":"a21","t":1964,"v":-0.2},{"s":"a21","t":1965,"v":0.3},{"s":"a21","t":1966,"v":0},{"s":"a21","t":1967,"v":-0.3},{"s":"a21","t":1968,"v":0.1},{"s":"a21","t":1969,"v":-0.1},
{"s":"a21","t":1970,"v":0.2},{"s":"a21","t":1971,"v":-0.1},{"s":"a21","t":1972,"v":0.5},{"s":"a21","t":1973,"v":1},{"s":"a21","t":1974,"v":1.5},{"s":"a21","t":1975,"v":0.5},{"s":"a21","t":1976,"v":1.5},{"s":"a21","t":1977,"v":2.5},{"s":"a21","t":1978,"v":2},{"s":"a21","t":1979,"v":3.5},
{"s":"a21","t":1980,"v":3},{"s":"a21","t":1981,"v":4},{"s":"a21","t":1982,"v":2.5},{"s":"a21","t":1983,"v":4.5},{"s":"a21","t":1984,"v":2.5},{"s":"a21","t":1985,"v":-13.7},{"s":"a21","t":1986,"v":0.5},{"s":"a21","t":1987,"v":2},{"s":"a21","t":1988,"v":2.5},{"s":"a21","t":1989,"v":3.5},
{"s":"a21","t":1990,"v":3},{"s":"a21","t":1991,"v":3.5},{"s":"a21","t":1992,"v":2.5},{"s":"a21","t":1993,"v":3},{"s":"a21","t":1994,"v":2.5},{"s":"a21","t":1995,"v":4},{"s":"a21","t":1996,"v":1.5},{"s":"a21","t":1997,"v":0.8},{"s":"a21","t":1998,"v":0.4},{"s":"a21","t":1999,"v":0.2},
{"s":"a21","t":2000,"v":0},{"s":"a21","t":2003,"v":0},{"s":"a21","t":2005,"v":0},{"s":"a21","t":2007,"v":-0.1},{"s":"a21","t":2008,"v":-0.3},{"s":"a21","t":2009,"v":-1.5},{"s":"a21","t":2010,"v":-4},{"s":"a21","t":2011,"v":-7.5},
{"s":"a22","t":1960,"v":0.2},{"s":"a22","t":1961,"v":0.4},{"s":"a22","t":1962,"v":0},{"s":"a22","t":1963,"v":0.3},{"s":"a22","t":1964,"v":0.1},{"s":"a22","t":1965,"v":0.5},{"s":"a22","t":1966,"v":0.2},{"s":"a22","t":1967,"v":0.4},{"s":"a22","t":1968,"v":0.6},{"s":"a22","t":1969,"v":0.3},
{"s":"a22","t":1970,"v":0.5},{"s":"a22","t":1971,"v":0.2},{"s":"a22","t":1972,"v":0.6},{"s":"a22","t":1973,"v":0},{"s":"a22","t":1974,"v":1},{"s":"a22","t":1975,"v":0.2},{"s":"a22","t":1976,"v":-1},{"s":"a22","t":1977,"v":0.5},{"s":"a22","t":1978,"v":-2},{"s":"a22","t":1979,"v":-3},
{"s":"a22","t":1980,"v":-4.5},{"s":"a22","t":1981,"v":-3},{"s":"a22","t":1982,"v":-6},{"s":"a22","t":1983,"v":-2.5},{"s":"a22","t":1984,"v":-4},{"s":"a22","t":1985,"v":-1},{"s":"a22","t":1986,"v":-2.5},{"s":"a22","t":1987,"v":-1.5},{"s":"a22","t":1988,"v":-2},{"s":"a22","t":1989,"v":-1},
{"s":"a22","t":1990,"v":0.5},{"s":"a22","t":1991,"v":1},{"s":"a22","t":1992,"v":0.8},{"s":"a22","t":1993,"v":0.5},{"s":"a22","t":1994,"v":0.4},{"s":"a22","t":1995,"v":0.6},{"s":"a22","t":1996,"v":0.4},{"s":"a22","t":1997,"v":0.3},{"s":"a22","t":1998,"v":0.2},{"s":"a22","t":1999,"v":0.1},
{"s":"a22","t":2000,"v":0},{"s":"a22","t":2003,"v":0.1},{"s":"a22","t":2005,"v":0.1},{"s":"a22","t":2007,"v":0.1},{"s":"a22","t":2008,"v":0.3},{"s":"a22","t":2009,"v":0.6},{"s":"a22","t":2010,"v":0.3},{"s":"a22","t":2011,"v":-0.5},
{"s":"a23","t":1960,"v":1.8},{"s":"a23","t":1961,"v":2.2},{"s":"a23","t":1962,"v":1.5},{"s":"a23","t":1963,"v":2},{"s":"a23","t":1964,"v":2.6},{"s":"a23","t":1965,"v":2.3},{"s":"a23","t":1966,"v":2},{"s":"a23","t":1967,"v":1.7},{"s":"a23","t":1968,"v":1.4},{"s":"a23","t":1969,"v":1.6},
{"s":"a23","t":1970,"v":1.2},{"s":"a23","t":1971,"v":1.8},{"s":"a23","t":1972,"v":2.5},{"s":"a23","t":1973,"v":3},{"s":"a23","t":1974,"v":5.5},{"s":"a23","t":1975,"v":2},{"s":"a23","t":1976,"v":0.5},{"s":"a23","t":1977,"v":-2},{"s":"a23","t":1978,"v":-3.5},{"s":"a23","t":1979,"v":-4.5},
{"s":"a23","t":1980,"v":-3},{"s":"a23","t":1981,"v":-5.5},{"s":"a23","t":1982,"v":-2.5},{"s":"a23","t":1983,"v":-4.5},{"s":"a23","t":1984,"v":-6},{"s":"a23","t":1985,"v":-3.5},{"s":"a23","t":1986,"v":-5},{"s":"a23","t":1987,"v":-4},{"s":"a23","t":1988,"v":-6.5},{"s":"a23","t":1989,"v":-5},
{"s":"a23","t":1990,"v":-5.5},{"s":"a23","t":1991,"v":-4},{"s":"a23","t":1992,"v":-3.5},{"s":"a23","t":1993,"v":-4.5},{"s":"a23","t":1994,"v":-4},{"s":"a23","t":1995,"v":-5.5},{"s":"a23","t":1996,"v":-2.5},{"s":"a23","t":1997,"v":-1.2},{"s":"a23","t":1998,"v":-0.8},{"s":"a23","t":1999,"v":-0.3},
{"s":"a23","t":2000,"v":0},{"s":"a23","t":2003,"v":0},{"s":"a23","t":2005,"v":0},{"s":"a23","t":2007,"v":0},{"s":"a23","t":2008,"v":-0.2},{"s":"a23","t":2009,"v":-0.6},{"s":"a23","t":2010,"v":-1.5},{"s":"a23","t":2011,"v":-3},
{"s":"a24","t":1960,"v":-0.6},{"s":"a24","t":1961,"v":-1},{"s":"a24","t":1962,"v":-0.4},{"s":"a24","t":1963,"v":-1.3},{"s":"a24","t":1964,"v":-1},{"s":"a24","t":1965,"v":-0.8},{"s":"a24","t":1966,"v":-1.4},{"s":"a24","t":1967,"v":-1.1},{"s":"a24","t":1968,"v":-0.9},{"s":"a24","t":1969,"v":-1.2},
{"s":"a24","t":1970,"v":-1.5},{"s":"a24","t":1971,"v":-1},{"s":"a24","t":1972,"v":-1.8},{"s":"a24","t":1973,"v":-2.5},{"s":"a24","t":1974,"v":-4},{"s":"a24","t":1975,"v":-3},{"s":"a24","t":1976,"v":-5.5},{"s":"a24","t":1977,"v":-4.5},{"s":"a24","t":1978,"v":-6.5},{"s":"a24","t":1979,"v":-5},
{"s":"a24","t":1980,"v":-6.5},{"s":"a24","t":1981,"v":-4},{"s":"a24","t":1982,"v":-3},{"s":"a24","t":1983,"v":-5.5},{"s":"a24","t":1984,"v":-7.5},{"s":"a24","t":1985,"v":-4.5},{"s":"a24","t":1986,"v":1},{"s":"a24","t":1987,"v":2.5},{"s":"a24","t":1988,"v":3.5},{"s":"a24","t":1989,"v":2},
{"s":"a24","t":1990,"v":1.5},{"s":"a24","t":1991,"v":2.5},{"s":"a24","t":1992,"v":3.5},{"s":"a24","t":1993,"v":4},{"s":"a24","t":1994,"v":3},{"s":"a24","t":1995,"v":2.5},{"s":"a24","t":1996,"v":1.2},{"s":"a24","t":1997,"v":0.6},{"s":"a24","t":1998,"v":0.3},{"s":"a24","t":1999,"v":0.1},
{"s":"a24","t":2000,"v":0},{"s":"a24","t":2003,"v":0},{"s":"a24","t":2005,"v":0.1},{"s":"a24","t":2007,"v":0},{"s":"a24","t":2008,"v":0.3},{"s":"a24","t":2009,"v":1.2},{"s":"a24","t":2010,"v":3},{"s":"a24","t":2011,"v":6},
{"s":"a25","t":1960,"v":0},{"s":"a25","t":1961,"v":0.3},{"s":"a25","t":1962,"v":-0.2},{"s":"a25","t":1963,"v":0.2},{"s":"a25","t":1964,"v":0.5},{"s":"a25","t":1965,"v":0.1},{"s":"a25","t":1966,"v":-0.1},{"s":"a25","t":1967,"v":0.4},{"s":"a25","t":1968,"v":0.2},{"s":"a25","t":1969,"v":0},
{"s":"a25","t":1970,"v":0.3},{"s":"a25","t":1971,"v":0.1},{"s":"a25","t":1972,"v":0.4},{"s":"a25","t":1973,"v":1},{"s":"a25","t":1974,"v":0},{"s":"a25","t":1975,"v":1.5},{"s":"a25","t":1976,"v":3},{"s":"a25","t":1977,"v":5},{"s":"a25","t":1978,"v":6.5},{"s":"a25","t":1979,"v":6},
{"s":"a25","t":1980,"v":2},{"s":"a25","t":1981,"v":4.5},{"s":"a25","t":1982,"v":6},{"s":"a25","t":1983,"v":1.5},{"s":"a25","t":1984,"v":-1},{"s":"a25","t":1985,"v":-4},{"s":"a25","t":1986,"v":1.5},{"s":"a25","t":1987,"v":4},{"s":"a25","t":1988,"v":2.5},{"s":"a25","t":1989,"v":1},
{"s":"a25","t":1990,"v":-1},{"s":"a25","t":1991,"v":-2},{"s":"a25","t":1992,"v":-1.5},{"s":"a25","t":1993,"v":-2.5},{"s":"a25","t":1994,"v":-2},{"s":"a25","t":1995,"v":-1.5},{"s":"a25","t":1996,"v":-0.8},{"s":"a25","t":1997,"v":-0.5},{"s":"a25","t":1998,"v":-0.3},{"s":"a25","t":1999,"v":-0.1},
{"s":"a25","t":2000,"v":0},{"s":"a25","t":2003,"v":0},{"s":"a25","t":2005,"v":0},{"s":"a25","t":2007,"v":0},{"s":"a25","t":2008,"v":-0.1},{"s":"a25","t":2009,"v":-0.5},{"s":"a25","t":2010,"v":-1},{"s":"a25","t":2011,"v":-2},
{"s":"a26","t":1960,"v":-0.3},{"s":"a26","t":1961,"v":-0.1},{"s":"a26","t":1962,"v":-0.5},{"s":"a26","t":1963,"v":-0.2},{"s":"a26","t":1964,"v":0},{"s":"a26","t":1965,"v":-0.4},{"s":"a26","t":1966,"v":-0.6},{"s":"a26","t":1967,"v":-0.3},{"s":"a26","t":1968,"v":-0.1},{"s":"a26","t":1969,"v":-0.5},
{"s":"a26","t":1970,"v":-0.2},{"s":"a26","t":1971,"v":-0.4},{"s":"a26","t":1972,"v":0},{"s":"a26","t":1973,"v":-0.6},{"s":"a26","t":1974,"v":-1.5},{"s":"a26","t":1975,"v":-0.3},{"s":"a26","t":1976,"v":-2},{"s":"a26","t":1977,"v":1},{"s":"a26","t":1978,"v":2.5},{"s":"a26","t":1979,"v":0.5},
{"s":"a26","t":1980,"v":-2},{"s":"a26","t":1981,"v":-4},{"s":"a26","t":1982,"v":-6.5},{"s":"a26","t":1983,"v":-3},{"s":"a26","t":1984,"v":-6},{"s":"a26","t":1985,"v":-2.5},{"s":"a26","t":1986,"v":-1},{"s":"a26","t":1987,"v":0.5},{"s":"a26","t":1988,"v":1},{"s":"a26","t":1989,"v":0},
{"s":"a26","t":1990,"v":-0.5},{"s":"a26","t":1991,"v":-1.5},{"s":"a26","t":1992,"v":-1},{"s":"a26","t":1993,"v":-2},{"s":"a26","t":1994,"v":-2.5},{"s":"a26","t":1995,"v":-3},{"s":"a26","t":1996,"v":-1},{"s":"a26","t":1997,"v":-0.5},{"s":"a26","t":1998,"v":-0.2},{"s":"a26","t":1999,"v":0},
{"s":"a26","t":2000,"v":0},{"s":"a26","t":2003,"v":0},{"s":"a26","t":2005,"v":-0.5},{"s":"a26","t":2007,"v":0},{"s":"a26","t":2008,"v":-0.1},{"s":"a26","t":2009,"v":-0.4},{"s":"a26","t":2010,"v":-1},{"s":"a26","t":2011,"v":-1.5},
{"s":"a27","t":1960,"v":2},{"s":"a27","t":1961,"v":1.8},{"s":"a27","t":1962,"v":1.6},{"s":"a27","t":1963,"v":1.9},{"s":"a27","t":1964,"v":1.5},{"s":"a27","t":1965,"v":1.3},{"s":"a27","t":1966,"v":1.6},{"s":"a27","t":1967,"v":1.2},{"s":"a27","t":1968,"v":1},{"s":"a27","t":1969,"v":1.4},
{"s":"a27","t":1970,"v":1.1},{"s":"a27","t":1971,"v":1.5},{"s":"a27","t":1972,"v":1.2},{"s":"a27","t":1973,"v":2.5},{"s":"a27","t":1974,"v":3.5},{"s":"a27","t":1975,"v":2.5},{"s":"a27","t":1976,"v":4},{"s":"a27","t":1977,"v":5.5},{"s":"a27","t":1978,"v":6},{"s":"a27","t":1979,"v":5},
{"s":"a27","t":1980,"v":3},{"s":"a27","t":1981,"v":2.5},{"s":"a27","t":1982,"v":4.5},{"s":"a27","t":1983,"v":4},{"s":"a27","t":1984,"v":1},{"s":"a27","t":1985,"v":3.5},{"s":"a27","t":1986,"v":2},{"s":"a27","t":1987,"v":1},{"s":"a27","t":1988,"v":-1},{"s":"a27","t":1989,"v":0.5},
{"s":"a27","t":1990,"v":1},{"s":"a27","t":1991,"v":1.5},{"s":"a27","t":1992,"v":0.5},{"s":"a27","t":1993,"v":1},{"s":"a27","t":1994,"v":0.8},{"s":"a27","t":1995,"v":0.5},{"s":"a27","t":1996,"v":0.4},{"s":"a27","t":1997,"v":0.2},{"s":"a27","t":1998,"v":0.2},{"s":"a27","t":1999,"v":0},
{"s":"a27","t":2000,"v":0},{"s":"a27","t":2003,"v":0},{"s":"a27","t":2005,"v":0},{"s":"a27","t":2007,"v":0.1},{"s":"a27","t":2008,"v":0.3},{"s":"a27","t":2009,"v":1},{"s":"a27","t":2010,"v":1.8},{"s":"a27","t":2011,"v":2.5},
{"s":"a28","t":1960,"v":-0.9},{"s":"a28","t":1961,"v":-1.3},{"s":"a28","t":1962,"v":-0.7},{"s":"a28","t":1963,"v":-1},{"s":"a28","t":1964,"v":-1.5},{"s":"a28","t":1965,"v":-1.2},{"s":"a28","t":1966,"v":-0.8},{"s":"a28","t":1967,"v":-1},{"s":"a28","t":1968,"v":-1.3},{"s":"a28","t":1969,"v":-1.1},
{"s":"a28","t":1970,"v":-0.8},{"s":"a28","t":1971,"v":-1.3},{"s":"a28","t":1972,"v":-1.5},{"s":"a28","t":1973,"v":-1},{"s":"a28","t":1974,"v":-3},{"s":"a28","t":1975,"v":-2},{"s":"a28","t":1976,"v":-4.5},{"s":"a28","t":1977,"v":-7},{"s":"a28","t":1978,"v":-6},{"s":"a28","t":1979,"v":-7.5},
{"s":"a28","t":1980,"v":-8},{"s":"a28","t":1981,"v":-7},{"s":"a28","t":1982,"v":-10},{"s":"a28","t":1983,"v":-9.5},{"s":"a28","t":1984,"v":-7},{"s":"a28","t":1985,"v":-5.5},{"s":"a28","t":1986,"v":-6.5},{"s":"a28","t":1987,"v":-5},{"s":"a28","t":1988,"v":-5.5},{"s":"a28","t":1989,"v":-4.5},
{"s":"a28","t":1990,"v":-4},{"s":"a28","t":1991,"v":-5.5},{"s":"a28","t":1992,"v":-4.5},{"s":"a28","t":1993,"v":-5.5},{"s":"a28","t":1994,"v":-5},{"s":"a28","t":1995,"v":-5},{"s":"a28","t":1996,"v":-2.5},{"s":"a28","t":1997,"v":-1.2},{"s":"a28","t":1998,"v":-0.6},{"s":"a28","t":1999,"v":-0.2},
{"s":"a28","t":2000,"v":-0.1},{"s":"a28","t":2003,"v":0},{"s":"a28","t":2005,"v":0},{"s":"a28","t":2007,"v":0},{"s":"a28","t":2008,"v":-0.1},{"s":"a28","t":2009,"v":-0.6},{"s":"a28","t":2010,"v":-1.8},{"s":"a28","t":2011,"v":-3.5}
],
"b": [
{"s":"b1","t":1987,"v":0.25},{"s":"b1","t":1988,"v":1.25},{"s":"b1","t":1989,"v":1},{"s":"b1","t":1990,"v":-0.6},{"s":"b1","t":1991,"v":0.2},{"s":"b1","t":1992,"v":0.5},{"s":"b1","t":1993,"v":-0.1},{"s":"b1","t":1994,"v":0.3},{"s":"b1","t":1995,"v":0.1},{"s":"b1","t":1996,"v":0.3},{"s":"b1","t":1997,"v":0.2},{"s":"b1","t":1998,"v":0.2},{"s":"b1","t":1999,"v":0.1},{"s":"b1","t":2000,"v":0.1},{"s":"b1","t":2002,"v":0.05},{"s":"b1","t":2004,"v":0},{"s":"b1","t":2006,"v":0},{"s":"b1","t":2007,"v":-0.2},{"s":"b1","t":2008,"v":-0.1},{"s":"b1","t":2009,"v":-0.6},{"s":"b1","t":2010,"v":-2},{"s":"b1","t":2011,"v":-4.5},
{"s":"b2","t":1990,"v":-0.1},{"s":"b2","t":1991,"v":1},{"s":"b2","t":1992,"v":0.3},{"s":"b2","t":1993,"v":0.6},{"s":"b2","t":1994,"v":0.2},{"s":"b2","t":1995,"v":1.2},{"s":"b2","t":1996,"v":1.8},{"s":"b2","t":1997,"v":0.9},{"s":"b2","t":1998,"v":2},{"s":"b2","t":1999,"v":1.6},{"s":"b2","t":2000,"v":1.2},{"s":"b2","t":2001,"v":0.9},{"s":"b2","t":2002,"v":0.6},{"s":"b2","t":2003,"v":0.4},{"s":"b2","t":2004,"v":0.3},{"s":"b2","t":2005,"v":0.25},{"s":"b2","t":2006,"v":0.45},{"s":"b2","t":2007,"v":0.2},{"s":"b2","t":2008,"v":0.3},{"s":"b2","t":2009,"v":1.2},{"s":"b2","t":2010,"v":2.5},{"s":"b2","t":2011,"v":1.5},
{"s":"b3","t":1996,"v":5.4},{"s":"b3","t":1997,"v":0.8},{"s":"b3","t":1998,"v":1.9},{"s":"b3","t":1999,"v":1.5},{"s":"b3","t":2000,"v":1.1},{"s":"b3","t":2001,"v":0.8},{"s":"b3","t":2002,"v":0.5},{"s":"b3","t":2003,"v":0.3},{"s":"b3","t":2004,"v":0.25},{"s":"b3","t":2005,"v":0.2},{"s":"b3","t":2006,"v":0.3},{"s":"b3","t":2007,"v":-0.2},{"s":"b3","t":2008,"v":0.2},{"s":"b3","t":2009,"v":2},{"s":"b3","t":2010,"v":5},{"s":"b3","t":2011,"v":12.8},
{"s":"b4","t":1996,"v":-5.4},{"s":"b4","t":1997,"v":-0.8},{"s":"b4","t":1998,"v":-1.9},{"s":"b4","t":1999,"v":-1.4},{"s":"b4","t":2000,"v":-1},{"s":"b4","t":2001,"v":-0.8},{"s":"b4","t":2002,"v":-0.5},{"s":"b4","t":2003,"v":-0.3},{"s":"b4","t":2004,"v":-0.25},{"s":"b4","t":2005,"v":-0.2},{"s":"b4","t":2006,"v":-0.3},{"s":"b4","t":2007,"v":-0.6},{"s":"b4","t":2008,"v":-0.5},{"s":"b4","t":2009,"v":-2},{"s":"b4","t":2010,"v":-5.5},{"s":"b4","t":2011,"v":-13.1},
{"s":"b5","t":1991,"v":0.5},{"s":"b5","t":1992,"v":1.8},{"s":"b5","t":1993,"v":-1.6},{"s":"b5","t":1994,"v":0.8},{"s":"b5","t":1995,"v":0.3},{"s":"b5","t":1996,"v":4.5},{"s":"b5","t":1997,"v":0.5},{"s":"b5","t":1998,"v":0.4},{"s":"b5","t":2000,"v":0.3},{"s":"b5","t":2002,"v":0.2},{"s":"b5","t":2004,"v":0.1},{"s":"b5","t":2006,"v":0.1},{"s":"b5","t":2007,"v":0},{"s":"b5","t":2008,"v":0.3},{"s":"b5","t":2009,"v":1.5},{"s":"b5","t":2010,"v":4},{"s":"b5","t":2011,"v":10},
{"s":"b6","t":1991,"v":-0.3},{"s":"b6","t":1992,"v":-1},{"s":"b6","t":1993,"v":-2.5},{"s":"b6","t":1994,"v":-0.5},{"s":"b6","t":1995,"v":-0.2},{"s":"b6","t":1996,"v":-5},{"s":"b6","t":1997,"v":-0.6},{"s":"b6","t":1998,"v":-1.6},{"s":"b6","t":1999,"v":-1.1},{"s":"b6","t":2000,"v":-0.7},{"s":"b6","t":2002,"v":-0.4},{"s":"b6","t":2004,"v":-0.2},{"s":"b6","t":2006,"v":-0.2},{"s":"b6","t":2007,"v":-0.5},{"s":"b6","t":2008,"v":-0.6},{"s":"b6","t":2009,"v":-2.3},{"s":"b6","t":2010,"v":-5.8},{"s":"b6","t":2011,"v":-12.6},
{"s":"b7","t":1991,"v":0.3},{"s":"b7","t":1992,"v":1.5},{"s":"b7","t":1993,"v":2.6},{"s":"b7","t":1994,"v":0.5},{"s":"b7","t":1995,"v":-0.3},{"s":"b7","t":1996,"v":-1.6},{"s":"b7","t":1997,"v":0.2},{"s":"b7","t":1998,"v":0.1},{"s":"b7","t":2000,"v":0.1},{"s":"b7","t":2002,"v":0},{"s":"b7","t":2004,"v":0},{"s":"b7","t":2006,"v":0},{"s":"b7","t":2008,"v":0.1},{"s":"b7","t":2009,"v":0.8},{"s":"b7","t":2010,"v":2.5},{"s":"b7","t":2011,"v":6.5},
{"s":"b8","t":1991,"v":-0.2},{"s":"b8","t":1992,"v":-1.4},{"s":"b8","t":1993,"v":-2.5},{"s":"b8","t":1994,"v":-0.3},{"s":"b8","t":1995,"v":0.9},{"s":"b8","t":1996,"v":0.8},{"s":"b8","t":1997,"v":0.3},{"s":"b8","t":1998,"v":0.1},{"s":"b8","t":2000,"v":-0.1},{"s":"b8","t":2002,"v":-0.1},{"s":"b8","t":2004,"v":-0.1},{"s":"b8","t":2006,"v":-0.1},{"s":"b8","t":2008,"v":0},{"s":"b8","t":2009,"v":1},{"s":"b8","t":2010,"v":2.5},{"s":"b8","t":2011,"v":4.8},
{"s":"b9","t":1991,"v":0.2},{"s":"b9","t":1992,"v":0.9},{"s":"b9","t":1993,"v":-0.2},{"s":"b9","t":1994,"v":0.4},{"s":"b9","t":1995,"v":0.1},{"s":"b9","t":1996,"v":0.6},{"s":"b9","t":1997,"v":0.4},{"s":"b9","t":1998,"v":0.3},{"s":"b9","t":2000,"v":0.2},{"s":"b9","t":2002,"v":0.1},{"s":"b9","t":2004,"v":0.1},{"s":"b9","t":2006,"v":0.1},{"s":"b9","t":2008,"v":0.2},{"s":"b9","t":2009,"v":0.8},{"s":"b9","t":2010,"v":1.5},{"s":"b9","t":2011,"v":4},
{"s":"b10","t":1991,"v":-0.5},{"s":"b10","t":1992,"v":-0.3},{"s":"b10","t":1993,"v":0.1},{"s":"b10","t":1994,"v":-0.2},{"s":"b10","t":1995,"v":-0.6},{"s":"b10","t":1996,"v":-0.2},{"s":"b10","t":1997,"v":0},{"s":"b10","t":1998,"v":-0.1},{"s":"b10","t":2000,"v":-0.1},{"s":"b10","t":2002,"v":0},{"s":"b10","t":2004,"v":0},{"s":"b10","t":2006,"v":-0.1},{"s":"b10","t":2008,"v":-0.3},{"s":"b10","t":2009,"v":-1.2},{"s":"b10","t":2010,"v":-3.5},{"s":"b10","t":2011,"v":-7.4},
{"s":"b11","t":1991,"v":0.9},{"s":"b11","t":1992,"v":1.2},{"s":"b11","t":1993,"v":1},{"s":"b11","t":1994,"v":0},{"s":"b11","t":1995,"v":-0.8},{"s":"b11","t":1996,"v":-1.5},{"s":"b11","t":1997,"v":-0.2},{"s":"b11","t":1998,"v":0},{"s":"b11","t":2000,"v":0},{"s":"b11","t":2002,"v":0},{"s":"b11","t":2004,"v":0},{"s":"b11","t":2006,"v":0},{"s":"b11","t":2008,"v":-0.2},{"s":"b11","t":2009,"v":-1},{"s":"b11","t":2010,"v":-2.8},{"s":"b11","t":2011,"v":-6.5},
{"s":"b12","t":1991,"v":0},{"s":"b12","t":1992,"v":-1.3},{"s":"b12","t":1993,"v":-0.2},{"s":"b12","t":1994,"v":-0.5},{"s":"b12","t":1995,"v":0.6},{"s":"b12","t":1996,"v":0.7},{"s":"b12","t":1997,"v":0.4},{"s":"b12","t":1998,"v":-0.3},{"s":"b12","t":2000,"v":-0.3},{"s":"b12","t":2002,"v":-0.2},{"s":"b12","t":2004,"v":-0.2},{"s":"b12","t":2006,"v":-0.3},{"s":"b12","t":2007,"v":-0.7},{"s":"b12","t":2008,"v":-0.4},{"s":"b12","t":2009,"v":2.4},{"s":"b12","t":2010,"v":2.6},{"s":"b12","t":2011,"v":1.2},
{"s":"b13","t":1991,"v":0.4},{"s":"b13","t":1992,"v":0.6},{"s":"b13","t":1993,"v":0.2},{"s":"b13","t":1994,"v":0.1},{"s":"b13","t":1995,"v":-0.5},{"s":"b13","t":1996,"v":-1},{"s":"b13","t":1997,"v":-0.1},{"s":"b13","t":1998,"v":0},{"s":"b13","t":2000,"v":0},{"s":"b13","t":2002,"v":0.1},{"s":"b13","t":2004,"v":0.1},{"s":"b13","t":2006,"v":0.1},{"s":"b13","t":2008,"v":0.2},{"s":"b13","t":2009,"v":1.6},{"s":"b13","t":2010,"v":4.5},{"s":"b13","t":2011,"v":7.3},
{"s":"b14","t":1991,"v":-0.7},{"s":"b14","t":1992,"v":-0.4},{"s":"b14","t":1993,"v":-1.2},{"s":"b14","t":1994,"v":-0.3},{"s":"b14","t":1995,"v":0.5},{"s":"b14","t":1996,"v":0.9},{"s":"b14","t":1997,"v":0.2},{"s":"b14","t":1998,"v":-0.2},{"s":"b14","t":2000,"v":-0.2},{"s":"b14","t":2002,"v":-0.1},{"s":"b14","t":2004,"v":-0.1},{"s":"b14","t":2006,"v":-0.2},{"s":"b14","t":2008,"v":-0.2},{"s":"b14","t":2009,"v":-0.9},{"s":"b14","t":2010,"v":-1.5},{"s":"b14","t":2011,"v":-2.8},
{"s":"b15","t":1991,"v":-0.6},{"s":"b15","t":1992,"v":0.1},{"s":"b15","t":1993,"v":0.4},{"s":"b15","t":1994,"v":-0.4},{"s":"b15","t":1995,"v":-0.9},{"s":"b15","t":1996,"v":-1.7},{"s":"b15","t":1997,"v":-0.5},{"s":"b15","t":1998,"v":-0.3},{"s":"b15","t":2000,"v":-0.2},{"s":"b15","t":2002,"v":-0.1},{"s":"b15","t":2004,"v":-0.1},{"s":"b15","t":2006,"v":-0.1},{"s":"b15","t":2008,"v":-0.3},{"s":"b15","t":2009,"v":-1.5},{"s":"b15","t":2010,"v":-3},{"s":"b15","t":2011,"v":-4.8},
{"s":"b16","t":1991,"v":0.6},{"s":"b16","t":1992,"v":0.2},{"s":"b16","t":1993,"v":0.8},{"s":"b16","t":1994,"v":0.3},{"s":"b16","t":1995,"v":0.7},{"s":"b16","t":1996,"v":0.2},{"s":"b16","t":1997,"v":0.3},{"s":"b16","t":1998,"v":0.2},{"s":"b16","t":2000,"v":0.2},{"s":"b16","t":2002,"v":0.1},{"s":"b16","t":2004,"v":0.1},{"s":"b16","t":2006,"v":0.2},{"s":"b16","t":2008,"v":0.1},{"s":"b16","t":2009,"v":0.6},{"s":"b16","t":2010,"v":1},{"s":"b16","t":2011,"v":1.5},
{"s":"b17","t":1990,"v":-0.6},{"s":"b17","t":1991,"v":-0.7},{"s":"b17","t":1992,"v":-0.3},{"s":"b17","t":1993,"v":0.2},{"s":"b17","t":1994,"v":-0.1},{"s":"b17","t":1995,"v":-0.4},{"s":"b17","t":1996,"v":-0.3},{"s":"b17","t":1997,"v":-0.1},{"s":"b17","t":1998,"v":-0.1},{"s":"b17","t":2000,"v":0},{"s":"b17","t":2003,"v":0},{"s":"b17","t":2006,"v":0},{"s":"b17","t":2008,"v":-0.1},{"s":"b17","t":2009,"v":-0.5},{"s":"b17","t":2010,"v":-1.5},{"s":"b17","t":2011,"v":-2.2},
{"s":"b18","t":1992,"v":-0.8},{"s":"b18","t":1993,"v":0.5},{"s":"b18","t":1994,"v":0.1},{"s":"b18","t":1995,"v":0.3},{"s":"b18","t":1996,"v":0.9},{"s":"b18","t":1997,"v":0.5},{"s":"b18","t":1998,"v":0.3},{"s":"b18","t":2000,"v":0.3},{"s":"b18","t":2003,"v":0.2},{"s":"b18","t":2006,"v":0.1},{"s":"b18","t":2008,"v":0.1},{"s":"b18","t":2009,"v":0.5},{"s":"b18","t":2010,"v":1.2},{"s":"b18","t":2011,"v":2.5},
{"s":"b19","t":1991,"v":0.2},{"s":"b19","t":1992,"v":0.5},{"s":"b19","t":1993,"v":0.3},{"s":"b19","t":1994,"v":0.1},{"s":"b19","t":1995,"v":0.4},{"s":"b19","t":1996,"v":0.5},{"s":"b19","t":1997,"v":0.3},{"s":"b19","t":1998,"v":0.4},{"s":"b19","t":2000,"v":0.3},{"s":"b19","t":2002,"v":0.2},{"s":"b19","t":2004,"v":0.2},{"s":"b19","t":2006,"v":0.3},{"s":"b19","t":2008,"v":0.2},{"s":"b19","t":2009,"v":0.9},{"s":"b19","t":2010,"v":2},{"s":"b19","t":2011,"v":3.5},
{"s":"b20","t":1991,"v":-0.1},{"s":"b20","t":1992,"v":-0.6},{"s":"b20","t":1993,"v":-0.4},{"s":"b20","t":1994,"v":-0.2},{"s":"b20","t":1995,"v":-0.3},{"s":"b20","t":1996,"v":-0.5},{"s":"b20","t":1997,"v":-0.3},{"s":"b20","t":1998,"v":-0.4},{"s":"b20","t":2000,"v":-0.3},{"s":"b20","t":2002,"v":-0.2},{"s":"b20","t":2004,"v":-0.2},{"s":"b20","t":2006,"v":-0.2},{"s":"b20","t":2008,"v":-0.2},{"s":"b20","t":2009,"v":-0.7},{"s":"b20","t":2010,"v":-1.2},{"s":"b20","t":2011,"v":-0.8},
{"s":"b21","t":1991,"v":-0.4},{"s":"b21","t":1992,"v":0.3},{"s":"b21","t":1993,"v":-0.6},{"s":"b21","t":1994,"v":0.2},{"s":"b21","t":1995,"v":-0.1},{"s":"b21","t":1996,"v":0.2},{"s":"b21","t":1997,"v":-0.2},{"s":"b21","t":1998,"v":-0.2},{"s":"b21","t":2000,"v":-0.2},{"s":"b21","t":2002,"v":-0.1},{"s":"b21","t":2004,"v":-0.1},{"s":"b21","t":2006,"v":-0.3},{"s":"b21","t":2007,"v":-0.6},{"s":"b21","t":2008,"v":-0.3},{"s":"b21","t":2009,"v":1.8},{"s":"b21","t":2010,"v":1.4},{"s":"b21","t":2011,"v":-0.5},
{"s":"b22","t":1991,"v":1.1},{"s":"b22","t":1992,"v":0.4},{"s":"b22","t":1993,"v":0.9},{"s":"b22","t":1994,"v":0.6},{"s":"b22","t":1995,"v":-1},{"s":"b22","t":1996,"v":-1.3},{"s":"b22","t":1997,"v":-0.4},{"s":"b22","t":1998,"v":0.1},{"s":"b22","t":2000,"v":0.1},{"s":"b22","t":2002,"v":0.1},{"s":"b22","t":2004,"v":0},{"s":"b22","t":2006,"v":0.1},{"s":"b22","t":2008,"v":0},{"s":"b22","t":2009,"v":-0.4},{"s":"b22","t":2010,"v":-1.6},{"s":"b22","t":2011,"v":-3.6},
{"s":"b23","t":1991,"v":0.1},{"s":"b23","t":1992,"v":-0.5},{"s":"b23","t":1993,"v":-0.9},{"s":"b23","t":1994,"v":-0.1},{"s":"b23","t":1995,"v":0.2},{"s":"b23","t":1996,"v":0.4},{"s":"b23","t":1997,"v":0.1},{"s":"b23","t":1998,"v":0},{"s":"b23","t":2000,"v":0},{"s":"b23","t":2002,"v":0},{"s":"b23","t":2004,"v":0},{"s":"b23","t":2006,"v":0},{"s":"b23","t":2008,"v":-0.2},{"s":"b23","t":2009,"v":-1.5},{"s":"b23","t":2010,"v":-4},{"s":"b23","t":2011,"v":-6.8},
{"s":"b24","t":1991,"v":0.7},{"s":"b24","t":1992,"v":1.3},{"s":"b24","t":1993,"v":-0.8},{"s":"b24","t":1994,"v":0.5},{"s":"b24","t":1995,"v":0.2},{"s":"b24","t":1996,"v":0.3},{"s":"b24","t":1997,"v":0.2},{"s":"b24","t":1998,"v":0.2},{"s":"b24","t":2000,"v":0.2},{"s":"b24","t":2002,"v":0.1},{"s":"b24","t":2004,"v":0.1},{"s":"b24","t":2006,"v":0.1},{"s":"b24","t":2008,"v":0.1},{"s":"b24","t":2009,"v":0.7},{"s":"b24","t":2010,"v":1.8},{"s":"b24","t":2011,"v":2.2},
{"s":"b25","t":1991,"v":-0.3},{"s":"b25","t":1992,"v":-0.9},{"s":"b25","t":1993,"v":-1.8},{"s":"b25","t":1994,"v":-0.4},{"s":"b25","t":1995,"v":0.3},{"s":"b25","t":1996,"v":0.5},{"s":"b25","t":1997,"v":0.1},{"s":"b25","t":1998,"v":0},{"s":"b25","t":2000,"v":-0.1},{"s":"b25","t":2002,"v":-0.1},{"s":"b25","t":2004,"v":-0.1},{"s":"b25","t":2006,"v":-0.1},{"s":"b25","t":2008,"v":0.1},{"s":"b25","t":2009,"v":0.6},{"s":"b25","t":2010,"v":1.6},{"s":"b25","t":2011,"v":3},
{"s":"b26","t":1991,"v":0.3},{"s":"b26","t":1992,"v":-0.2},{"s":"b26","t":1993,"v":0.6},{"s":"b26","t":1994,"v":-0.2},{"s":"b26","t":1995,"v":-0.6},{"s":"b26","t":1996,"v":-1.2},{"s":"b26","t":1997,"v":-0.3},{"s":"b26","t":1998,"v":-0.2},{"s":"b26","t":2000,"v":-0.1},{"s":"b26","t":2002,"v":-0.1},{"s":"b26","t":2004,"v":0},{"s":"b26","t":2006,"v":0},{"s":"b26","t":2008,"v":-0.2},{"s":"b26","t":2009,"v":-1.1},{"s":"b26","t":2010,"v":-2.2},{"s":"b26","t":2011,"v":-3.8},
{"s":"b27","t":1996,"v":4.8},{"s":"b27","t":1997,"v":0.7},{"s":"b27","t":1998,"v":1.7},{"s":"b27","t":1999,"v":1.3},{"s":"b27","t":2000,"v":1},{"s":"b27","t":2002,"v":0.5},{"s":"b27","t":2004,"v":0.2},{"s":"b27","t":2006,"v":0.2},{"s":"b27","t":2007,"v":-0.1},{"s":"b27","t":2008,"v":0.2},{"s":"b27","t":2009,"v":1.7},{"s":"b27","t":2010,"v":4},{"s":"b27","t":2011,"v":9},
{"s":"b28","t":1996,"v":-4.8},{"s":"b28","t":1997,"v":-0.7},{"s":"b28","t":1998,"v":-1.7},{"s":"b28","t":1999,"v":-1.2},{"s":"b28","t":2000,"v":-0.9},{"s":"b28","t":2002,"v":-0.4},{"s":"b28","t":2004,"v":-0.2},{"s":"b28","t":2006,"v":-0.2},{"s":"b28","t":2007,"v":-0.5},{"s":"b28","t":2008,"v":-0.5},{"s":"b28","t":2009,"v":-2.1},{"s":"b28","t":2010,"v":-5.2},{"s":"b28","t":2011,"v":-12.3}
]
},
"vconcat": [
 {
  "width": 1094, "height": 43,
  "view": {"fill": "#ffffff", "stroke": null},
  "data": {"values": [{"cap": "(a) Differential yield spreads"}, {"cap": "(b) Differential adjusted yield spreads"}]},
  "mark": {"type": "text", "font": "Liberation Serif", "fontSize": 22.5, "color": "#000000", "baseline": "middle"},
  "encoding": {"x": {"field": "cap", "type": "nominal", "sort": null, "axis": null}, "text": {"field": "cap"}}
 },
 {
  "spacing": 0,
  "resolve": {"scale": {"color": "independent"}},
  "hconcat": [
   {"width": 7, "height": 371, "view": {"fill": "#ffffff", "stroke": null}, "data": {"values": []}, "mark": {"type": "text"}, "encoding": {}},
   {"width": 13, "height": 371, "data": {"values": []}, "mark": {"type": "text"}, "encoding": {}},
   {
    "width": 445, "height": 302,
    "view": {"fill": "#ffffff", "stroke": null},
    "title": {"text": "Annual yield spreads among 14 countries"},
    "data": {"name": "a"},
    "mark": {"type": "line", "strokeWidth": 1, "clip": true},
    "encoding": {
     "x": {"field": "t", "type": "quantitative", "scale": {"domain": [1959.2, 2011.85], "nice": false, "zero": false}, "axis": {"title": "year", "values": [1960, 1970, 1980, 1990, 2000, 2010], "format": "d"}},
     "y": {"field": "v", "type": "quantitative", "scale": {"domain": [-22, 18.05], "nice": false, "zero": false}, "axis": {"title": "Differential long-term interest rates", "values": [-8, -6, -4, -2, 0, 2, 4, 6, 8]}},
     "color": {"field": "s", "type": "nominal", "legend": null, "scale": {
      "domain": ["a1","a2","a3","a4","a5","a6","a7","a8","a9","a10","a11","a12","a13","a14","a15","a16","a17","a18","a19","a20","a21","a22","a23","a24","a25","a26","a27","a28"],
      "range": ["#c10534","#55752f","#e37e00","#ffd200","#938dd2","#a0522d","#bfa19c","#90353b","#2d6d66","#1a476f","#55752f","#938dd2","#cac27e","#6e8e84","#ffd200","#9c8847","#c10534","#7b92a8","#e37e00","#1a476f","#55752f","#c10534","#6e8e84","#cac27e","#e37e00","#1a476f","#ffd200","#bfa19c"]}}
    }
   },
   {"width": 36, "height": 371, "data": {"values": []}, "mark": {"type": "text"}, "encoding": {}},
   {"width": 26, "height": 371, "view": {"fill": "#ffffff", "stroke": null}, "data": {"values": []}, "mark": {"type": "text"}, "encoding": {}},
   {"width": 13, "height": 371, "data": {"values": []}, "mark": {"type": "text"}, "encoding": {}},
   {
    "width": 445, "height": 302,
    "view": {"fill": "#ffffff", "stroke": null},
    "title": {"text": "Annual adjusted yield spreads among 14 countries"},
    "data": {"name": "b"},
    "mark": {"type": "line", "strokeWidth": 1, "clip": true},
    "encoding": {
     "x": {"field": "t", "type": "quantitative", "scale": {"domain": [1984.56, 2011.46], "nice": false, "zero": false}, "axis": {"title": "year", "values": [1985, 1990, 1995, 2000, 2005, 2010], "format": "d"}},
     "y": {"field": "v", "type": "quantitative", "scale": {"domain": [-13.88, 13.79], "nice": false, "zero": false}, "axis": {"title": "Differential adjusted Spreads", "values": [-8, -6, -4, -2, 0, 2, 4, 6, 8]}},
     "color": {"field": "s", "type": "nominal", "legend": null, "scale": {
      "domain": ["b1","b2","b3","b4","b5","b6","b7","b8","b9","b10","b11","b12","b13","b14","b15","b16","b17","b18","b19","b20","b21","b22","b23","b24","b25","b26","b27","b28"],
      "range": ["#55752f","#c10534","#a0522d","#55752f","#cac27e","#2d6d66","#bfa19c","#6e8e84","#ffd200","#938dd2","#e37e00","#1a476f","#90353b","#7b92a8","#9c8847","#c10534","#bfa19c","#ffd200","#c10534","#2d6d66","#1a476f","#e37e00","#938dd2","#cac27e","#6e8e84","#9c8847","#a0522d","#55752f"]}}
    }
   }
  ]
 }
]
}
